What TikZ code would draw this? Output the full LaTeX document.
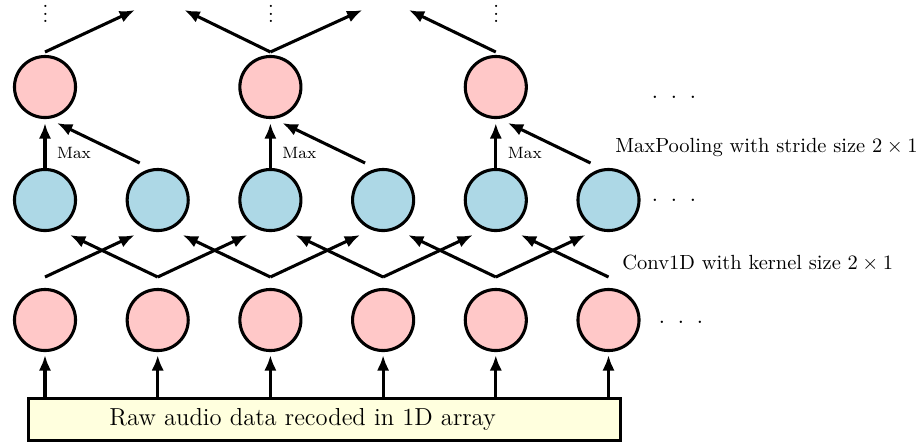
\documentclass[tikz,border=0pt]{standalone}
\usetikzlibrary{arrows.meta,calc}
\def\px{0.488pt}
\definecolor{pinkc}{RGB}{255,200,200}
\definecolor{bluec}{RGB}{173,216,230}
\definecolor{yelc}{RGB}{255,255,222}
\newcommand\myvdots{\vbox{\baselineskip3.7pt \lineskiplimit0pt \hbox{.}\hbox{.}\hbox{.}}}
\begin{document}
\begin{tikzpicture}[x=\px,y=-\px,
  neuron/.style={circle, draw, line width=1.5pt, minimum size=29.8pt, inner sep=0pt},
  pinkn/.style={neuron, fill=pinkc},
  bluen/.style={neuron, fill=bluec},
  arr/.style={-{Latex[length=7.5pt,width=6pt]}, line width=1.5pt},
  lbl/.style={font=\normalsize, inner sep=0pt},
  dotsn/.style={inner sep=0pt, font=\large}
]
\useasboundingbox (0,0) rectangle (922,444);

\foreach \i/\x in {1/45,2/157.7,3/270.4,4/383.1,5/495.8,6/608.5} {
  \node[pinkn] (b\i) at (\x,320) {};
  \node[bluen] (m\i) at (\x,200) {};
}
\node[pinkn] (t1) at (45,87) {};
\node[pinkn] (t2) at (270.4,87) {};
\node[pinkn] (t3) at (495.8,87) {};

\node[draw, line width=1.5pt, fill=yelc, anchor=north west,
      minimum height=20.5pt, inner xsep=39.5pt, text width=210pt, align=left,
      font=\large] (raw) at (27,397) {Raw audio data recoded in 1D array};

% input arrows
\foreach \i in {1,...,6}
  \draw[arr, shorten >=1.5pt] (b\i |- raw.north) -- (b\i);

% conv arrows
\foreach \i/\j in {1/2,2/3,3/4,4/5,5/6}
  \draw[arr] ($(b\i)+(0,-43)$) -- ($(m\j)+(-23,35)$);
\foreach \i/\j in {2/1,3/2,4/3,5/4,6/5}
  \draw[arr] ($(b\i)+(0,-43)$) -- ($(m\j)+(25,35)$);

% max pooling arrows
\foreach \a/\b/\c in {1/2/1,3/4/2,5/6/3} {
  \draw[arr, shorten >=2pt] (m\a) -- (t\c);
  \draw[arr] ($(m\b)+(-18,-37)$) -- ($(t\c)+(12,36)$);
  \node[font=\footnotesize, inner sep=0pt] (max\c) at ($(m\a)+(29,-47)$) {Max};
}

% top arrows
\draw[arr] ($(t1)+(0,-35)$) -- ($(t1)+(90,-77)$);
\draw[arr] ($(t2)+(0,-35)$) -- ($(t2)+(-86,-77)$);
\draw[arr] ($(t2)+(0,-35)$) -- ($(t2)+(92,-77)$);
\draw[arr] ($(t3)+(0,-35)$) -- ($(t3)+(-87,-77)$);

% vertical dots
\foreach \c in {1,2,3}
  \node[anchor=south, inner sep=0pt] (vd\c) at ($(t\c)+(0.5,-64)$) {\myvdots};

% horizontal dots
\node[dotsn] (hd1) at (674,97) {.\hspace{6pt}.\hspace{6pt}.};
\node[dotsn] (hd2) at (674,200.5) {.\hspace{6pt}.\hspace{6pt}.};
\node[dotsn] (hd3) at (681,322) {.\hspace{6pt}.\hspace{6pt}.};

% labels
\node[lbl, anchor=base west] (lmax) at (615,152) {MaxPooling with stride size $2\times1$};
\node[lbl, anchor=base west] (lconv) at (622,269) {Conv1D with kernel size $2\times1$};
\end{tikzpicture}
\end{document}
